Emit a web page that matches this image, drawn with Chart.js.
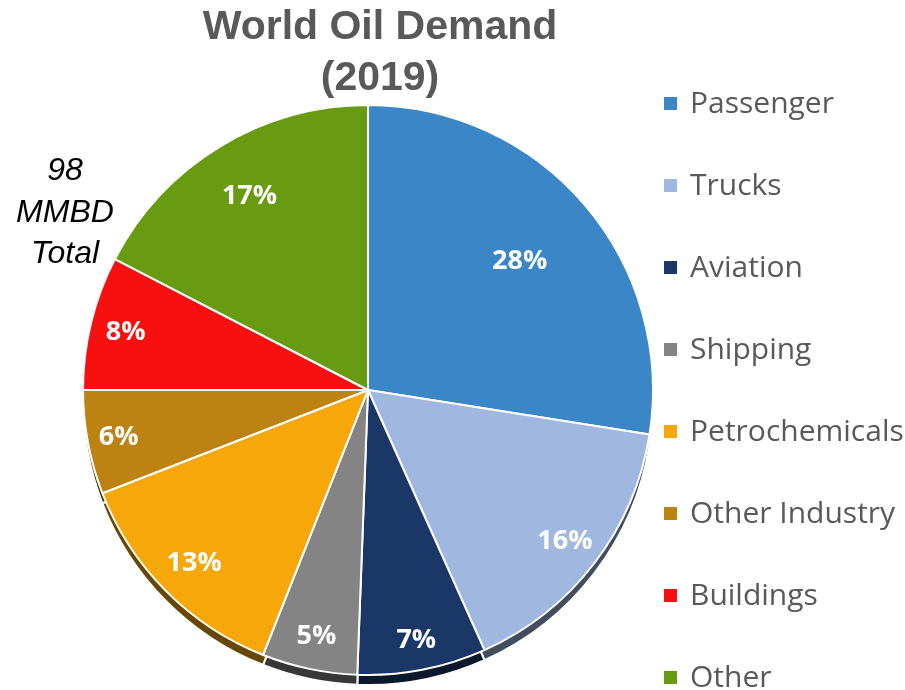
<!DOCTYPE html>
<html>
<head>
<meta charset="utf-8">
<script src="https://cdn.jsdelivr.net/npm/chart.js@4.4.1/dist/chart.umd.min.js"></script>
<style>
html,body{margin:0;padding:0;background:#ffffff;}
#wrap{width:905px;height:690px;position:relative;}
canvas{display:block;}
</style>
</head>
<body>
<div id="wrap"><canvas id="c" width="905" height="690"></canvas></div>
<script>
// ---- data ----
const categories = ['Passenger', 'Trucks', 'Aviation', 'Shipping', 'Petrochemicals', 'Other Industry', 'Buildings', 'Other'];
const shares = [27.5, 15.8, 7.3, 5.4, 13.1, 5.9, 7.6, 17.4];
const titleLines = ['World Oil Demand', '(2019)'];
const totalNote = ['98', 'MMBD', 'Total'];

// ---- styles ----
const sliceColors = ['#3A86C6', '#A0B7E0', '#1B3767', '#848484', '#F6A80B', '#BC8212', '#F80F10', '#689B11'];
const labelRadii = [0.70, 0.87, 0.89, 0.88, 0.86, 0.89, 0.875, 0.80];

function darken(hex, f) {
  const n = parseInt(hex.slice(1), 16);
  const r = Math.round(((n >> 16) & 255) * f);
  const g = Math.round(((n >> 8) & 255) * f);
  const b = Math.round((n & 255) * f);
  return 'rgb(' + r + ',' + g + ',' + b + ')';
}

// 3D-like depth band under the pie, drawn from the library's arc elements
const depthPlugin = {
  id: 'depth',
  beforeDatasetsDraw(chart, args, opts) {
    const ctx = chart.ctx;
    const meta = chart.getDatasetMeta(0);
    ctx.save();
    ctx.translate(0, opts.depth);
    meta.data.forEach((arc, i) => {
      const p = arc.getProps(['x', 'y', 'startAngle', 'endAngle', 'outerRadius'], true);
      ctx.beginPath();
      ctx.moveTo(p.x, p.y);
      ctx.arc(p.x, p.y, p.outerRadius, p.startAngle, p.endAngle);
      ctx.closePath();
      ctx.fillStyle = darken(sliceColors[i], 0.42);
      ctx.fill();
      ctx.lineWidth = 2;
      ctx.strokeStyle = '#ffffff';
      ctx.stroke();
    });
    ctx.restore();
  }
};

// percentage labels
const pctPlugin = {
  id: 'pct',
  afterDatasetsDraw(chart) {
    const ctx = chart.ctx;
    const meta = chart.getDatasetMeta(0);
    const vals = chart.data.datasets[0].data;
    const total = vals.reduce((a, b) => a + b, 0);
    ctx.save();
    ctx.font = 'bold 27px "Open Sans", "Noto Sans", sans-serif';
    ctx.fillStyle = '#ffffff';
    ctx.textAlign = 'center';
    ctx.textBaseline = 'middle';
    meta.data.forEach((arc, i) => {
      const p = arc.getProps(['x', 'y', 'startAngle', 'endAngle', 'outerRadius'], true);
      const mid = (p.startAngle + p.endAngle) / 2;
      const r = p.outerRadius * labelRadii[i];
      const txt = Math.round(vals[i] / total * 100) + '%';
      ctx.fillText(txt, p.x + Math.cos(mid) * r, p.y + Math.sin(mid) * r + 1);
    });
    ctx.restore();
  }
};

// title, side note and legend
const textPlugin = {
  id: 'texts',
  afterDraw(chart) {
    const ctx = chart.ctx;
    ctx.save();
    // title
    ctx.fillStyle = '#595959';
    ctx.font = 'bold 41px "Liberation Sans", Arial, sans-serif';
    ctx.textAlign = 'center';
    ctx.textBaseline = 'alphabetic';
    const titleBase = [39, 90];
    titleLines.forEach((t, i) => ctx.fillText(t, 380, titleBase[i]));
    // side note
    ctx.fillStyle = '#000000';
    ctx.font = 'italic 32px "Liberation Sans", Arial, sans-serif';
    const noteBase = [180, 222, 263];
    totalNote.forEach((t, i) => ctx.fillText(t, 65, noteBase[i]));
    // legend
    ctx.textAlign = 'left';
    ctx.font = '30px "Open Sans", "Noto Sans", sans-serif';
    const labels = chart.data.labels;
    const colors = chart.data.datasets[0].backgroundColor;
    labels.forEach((lab, i) => {
      const base = 113 + 82 * i;
      ctx.fillStyle = colors[i];
      ctx.fillRect(664, base - 16, 13, 13);
      ctx.fillStyle = '#595959';
      ctx.fillText(lab, 690, base);
    });
    ctx.restore();
  }
};

new Chart(document.getElementById('c'), {
  type: 'pie',
  data: {
    labels: categories,
    datasets: [{
      data: shares,
      backgroundColor: sliceColors,
      borderColor: '#ffffff',
      borderWidth: 2
    }]
  },
  options: {
    responsive: false,
    devicePixelRatio: 1,
    animation: false,
    layout: { padding: { left: 82, right: 251, top: 104, bottom: 14 } },
    plugins: {
      legend: { display: false },
      tooltip: { enabled: false },
      title: { display: false },
      depth: { depth: 10 }
    }
  },
  plugins: [depthPlugin, pctPlugin, textPlugin]
});
</script>
</body>
</html>
